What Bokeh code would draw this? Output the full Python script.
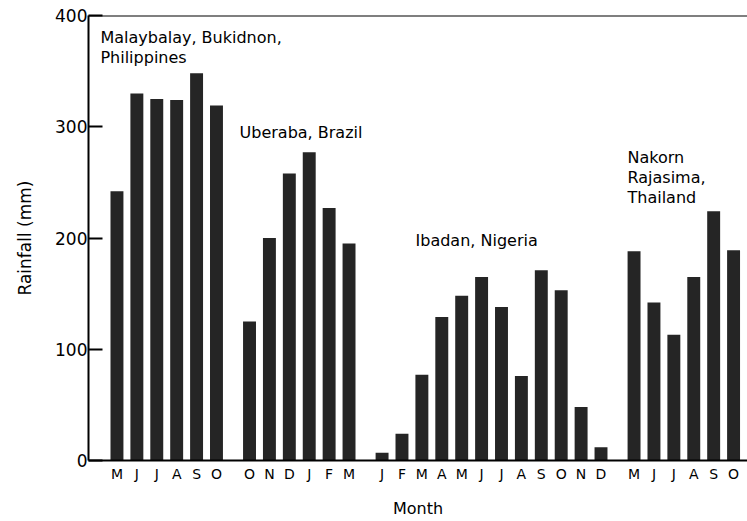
from bokeh.plotting import figure
from bokeh.models import Range1d, FixedTicker, Label, Span
from bokeh.embed import file_html
from bokeh.resources import INLINE

# ---- data (rainfall, mm) ----
malaybalay_months = ["M", "J", "J", "A", "S", "O"]
malaybalay_rain = [242, 330, 325, 324, 348, 319]

uberaba_months = ["O", "N", "D", "J", "F", "M"]
uberaba_rain = [125, 200, 258, 277, 227, 195]

ibadan_months = ["J", "F", "M", "A", "M", "J", "J", "A", "S", "O", "N", "D"]
ibadan_rain = [7, 24, 77, 129, 148, 165, 138, 76, 171, 153, 48, 12]

nakorn_months = ["M", "J", "J", "A", "S", "O"]
nakorn_rain = [188, 142, 113, 165, 224, 189]

group_names = [
    ["Malaybalay, Bukidnon,", "Philippines"],
    ["Uberaba, Brazil"],
    ["Ibadan, Nigeria"],
    ["Nakorn", "Rajasima,", "Thailand"],
]
y_ticks = [0, 100, 200, 300, 400]

groups = [
    (malaybalay_months, malaybalay_rain),
    (uberaba_months, uberaba_rain),
    (ibadan_months, ibadan_rain),
    (nakorn_months, nakorn_rain),
]

# ---- layout of bar slots ----
GAP = 0.66
xs, tops, labels = [], [], []
k = 0
for g, (months, rain) in enumerate(groups):
    for m, r in zip(months, rain):
        xs.append(round(k + g * GAP, 2))
        tops.append(r)
        labels.append(m)
        k += 1

FONT = "DejaVu Sans"

p = figure(width=747, height=521, output_backend="svg", toolbar_location=None,
           x_range=Range1d(-1.43, 31.68), y_range=Range1d(0, 400))
p.min_border_left = 88
p.min_border_right = 0
p.min_border_top = 15
p.min_border_bottom = 61
p.outline_line_color = None
p.grid.visible = False
p.background_fill_color = "white"
p.border_fill_color = "white"

p.vbar(x=xs, top=tops, width=0.65, bottom=0, fill_color="#252525", line_color=None)

# top border line
p.add_layout(Span(location=400, dimension="width", line_color="black", line_width=2))

# y axis
ya = p.yaxis[0]
ya.ticker = FixedTicker(ticks=y_ticks)
ya.major_tick_in = 14
ya.major_tick_out = 0
ya.minor_tick_line_color = None
ya.axis_line_width = 2
ya.major_tick_line_width = 2
ya.major_label_standoff = 1
ya.major_label_text_font = FONT
ya.major_label_text_font_size = "17px"
ya.major_label_text_color = "black"
ya.axis_label = "Rainfall (mm)"
ya.axis_label_text_font = FONT
ya.axis_label_text_font_size = "17px"
ya.axis_label_text_font_style = "normal"
ya.axis_label_text_color = "black"
ya.axis_label_standoff = 17

# x axis
xa = p.xaxis[0]
xa.ticker = FixedTicker(ticks=xs)
xa.major_label_overrides = {x: l for x, l in zip(xs, labels)}
xa.major_tick_in = 0
xa.major_tick_out = 0
xa.minor_tick_line_color = None
xa.axis_line_width = 2
xa.major_label_standoff = 5
xa.major_label_text_font = FONT
xa.major_label_text_font_size = "14px"
xa.major_label_text_color = "black"
xa.axis_label = "Month"
xa.axis_label_text_font = FONT
xa.axis_label_text_font_size = "16px"
xa.axis_label_text_font_style = "normal"
xa.axis_label_text_color = "black"
xa.axis_label_standoff = 14

# group annotations
label_pos = [(-0.83, 380), (6.16, 295), (15.0, 198), (25.65, 272)]
LINE = 18.0
for (lx, ly), lines in zip(label_pos, group_names):
    for i, t in enumerate(lines):
        p.add_layout(Label(x=lx, y=ly - i * LINE, text=t, text_font=FONT,
                           text_font_size="16px", text_baseline="middle",
                           text_color="black"))

open("out.html", "w").write(file_html(p, INLINE))
